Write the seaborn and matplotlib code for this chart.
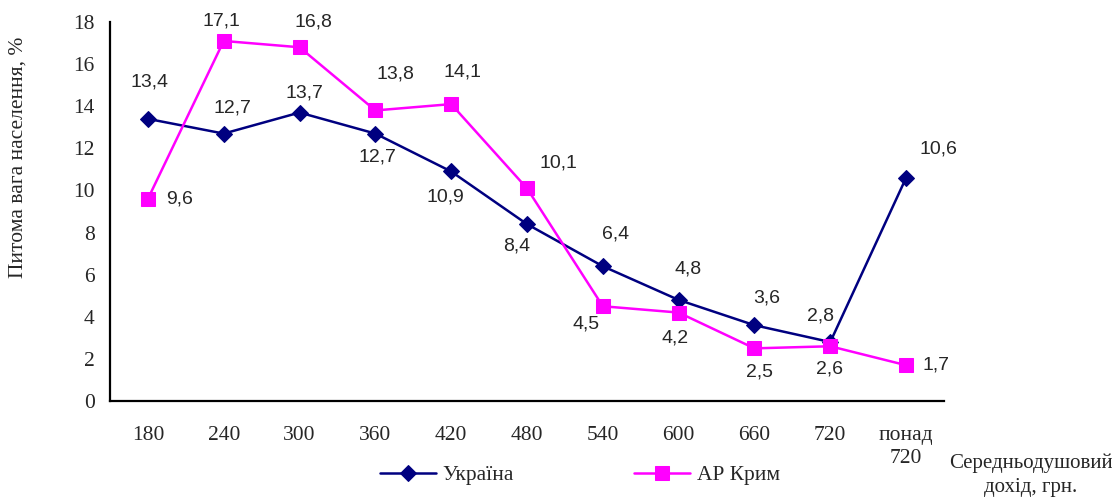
import numpy as np
import pandas as pd
import matplotlib.pyplot as plt
import seaborn as sns

# доход, грн. (категорії осі X)
categories = ['180', '240', '300', '360', '420', '480', '540', '600', '660', '720', 'понад\n720']
ukraine = [13.4, 12.7, 13.7, 12.7, 10.9, 8.4, 6.4, 4.8, 3.6, 2.8, 10.6]
crimea = [9.6, 17.1, 16.8, 13.8, 14.1, 10.1, 4.5, 4.2, 2.5, 2.6, 1.7]
y_ticks = [0, 2, 4, 6, 8, 10, 12, 14, 16, 18]

# зсув підписів (у пікселях відносно точки)
ukr_off = [(2, -37), (9, -26), (5, -20), (2, 23), (-6, 26), (-10, 22),
           (13, -32), (9, -31), (12, -27), (-10, -26), (32, -29)]
crm_off = [(32, 0), (-2, -20), (14, -25), (20, -36), (11, -32), (31, -25),
           (-17, 18), (-4, 25), (5, 24), (-1, 23), (30, 0)]

sns.set_style('white')
plt.rcParams['font.family'] = ['Liberation Serif', 'DejaVu Serif']

x = np.arange(len(categories))
df = pd.DataFrame({'x': x, 'Україна': ukraine, 'АР Крим': crimea})

fig = plt.figure(figsize=(11.12, 4.97), dpi=100)
ax = fig.add_axes([110 / 1112, 96 / 497, 834 / 1112, 379 / 497])

sns.lineplot(data=df, x='x', y='Україна', ax=ax, color='#000080', lw=1.8,
             marker='D', markersize=8, markeredgecolor='#000080', label='Україна')
sns.lineplot(data=df, x='x', y='АР Крим', ax=ax, color='#FF00FF', lw=1.8,
             marker='s', markersize=10, markeredgecolor='#FF00FF', label='АР Крим')

px = 0.72  # пікселі -> пункти
for xi, v, (dx, dy) in zip(x, ukraine, ukr_off):
    ax.annotate(f'{v:.1f}'.replace('.', ','), (xi, v), xytext=(dx * px, -dy * px),
                textcoords='offset points', ha='center', va='center',
                fontsize=14, family='Liberation Sans')
for xi, v, (dx, dy) in zip(x, crimea, crm_off):
    ax.annotate(f'{v:.1f}'.replace('.', ','), (xi, v), xytext=(dx * px, -dy * px),
                textcoords='offset points', ha='center', va='center',
                fontsize=14, family='Liberation Sans')

ax.set_xlim(-0.5, len(categories) - 0.5)
ax.set_ylim(0, 18)
ax.set_yticks(y_ticks)
ax.set_xticks(x)
ax.set_xticklabels(categories, fontsize=15.5, linespacing=1.3)
ax.set_xticks(np.arange(len(categories) + 1) - 0.5, minor=True)
ax.tick_params(axis='x', which='major', length=0, pad=18)
ax.tick_params(axis='x', which='minor', length=6, width=1.6, color='black', direction='out')
ax.tick_params(axis='y', length=6, width=1.6, color='black', direction='out', labelsize=15.5, pad=5)
ax.set_xlabel('')
ax.set_ylabel('')

for s in ['top', 'right']:
    ax.spines[s].set_visible(False)
for s in ['left', 'bottom']:
    ax.spines[s].set_linewidth(1.6)
    ax.spines[s].set_color('black')

fig.text(18 / 1112, 1 - 157 / 497, 'Питома вага населення, %', rotation=90,
         ha='center', va='center', fontsize=15.5)
fig.text(1031 / 1112, 1 - 475 / 497, 'Середньодушовий\nдохід, грн.',
         ha='center', va='center', fontsize=15, linespacing=1.35)

ax.get_legend().remove()
h, l = ax.get_legend_handles_labels()
fig.legend(h, l, loc='center', bbox_to_anchor=(580 / 1112, 22 / 497), ncol=2,
           frameon=False, fontsize=15.5, handlelength=2.6, columnspacing=5.6,
           handletextpad=0.3)

fig.savefig('out.png', dpi=100)
